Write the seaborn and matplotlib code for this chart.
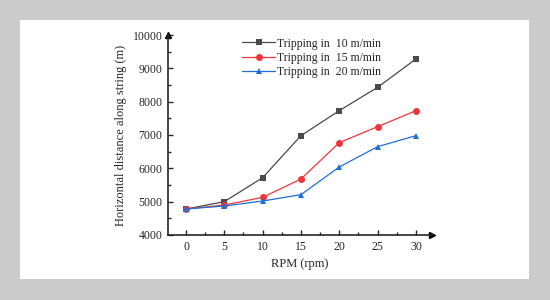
import numpy as np
import pandas as pd
import seaborn as sns
import matplotlib.pyplot as plt
from matplotlib.patches import Rectangle
from matplotlib.ticker import MultipleLocator

rpm = [0, 5, 10, 15, 20, 25, 30]
trip_10 = [4780, 5000, 5720, 6980, 7730, 8430, 9280]
trip_15 = [4780, 4900, 5130, 5680, 6770, 7250, 7730]
trip_20 = [4780, 4870, 5020, 5210, 6040, 6650, 6980]
labels = ["Tripping in  10 m/min", "Tripping in  15 m/min", "Tripping in  20 m/min"]

df = pd.DataFrame({
    "rpm": rpm * 3,
    "dist": trip_10 + trip_15 + trip_20,
    "series": [labels[0]] * 7 + [labels[1]] * 7 + [labels[2]] * 7,
})

sns.set_style("ticks")
plt.rcParams["font.family"] = ["Liberation Serif", "DejaVu Serif"]

fig = plt.figure(figsize=(5.5, 3.0), dpi=100)
fig.patch.set_facecolor("#cbcbcb")
# white card behind the chart
fig.patches.append(Rectangle((20 / 550, 21 / 300), 509 / 550, 259 / 300,
                             transform=fig.transFigure, facecolor="white",
                             edgecolor="none", zorder=-10))

ax = fig.add_axes([168 / 550, 65 / 300, 264 / 550, 200 / 300])
ax.set_facecolor("none")

palette = {labels[0]: "#4a4a4a", labels[1]: "#f0353b", labels[2]: "#1c6fd8"}
markers = {labels[0]: "s", labels[1]: "o", labels[2]: "^"}
sns.lineplot(data=df, x="rpm", y="dist", hue="series", style="series",
             palette=palette, markers=markers, dashes=False, markersize=5,
             markeredgewidth=0, linewidth=0.9, ax=ax)

ax.set_xlim(-2.35, 32.1)
ax.set_ylim(4000, 10000)
ax.xaxis.set_major_locator(MultipleLocator(5))
ax.xaxis.set_minor_locator(MultipleLocator(2.5))
ax.yaxis.set_major_locator(MultipleLocator(1000))
ax.yaxis.set_minor_locator(MultipleLocator(500))
ax.tick_params(which="both", direction="in", width=1, labelsize=8.5, pad=4)
ax.tick_params(which="major", length=3.5)
ax.tick_params(which="minor", length=2)

for s in ["top", "right"]:
    ax.spines[s].set_visible(False)
for s in ["left", "bottom"]:
    ax.spines[s].set_linewidth(1.2)

# arrow heads on the axes
ax.plot(1, 0, ">k", markersize=5, transform=ax.transAxes, clip_on=False)
ax.plot(0, 1, "^k", markersize=5, transform=ax.transAxes, clip_on=False)

ax.set_xlabel("RPM (rpm)", fontsize=9)
ax.set_ylabel("Horizontal distance along string (m)", fontsize=9)

ax.legend(title=None, frameon=False, loc="upper left", bbox_to_anchor=(0.24, 1.04),
          fontsize=8.5, handlelength=2.8, labelspacing=0.2, handletextpad=0.2)

fig.savefig("out.png", dpi=100, facecolor=fig.get_facecolor())
